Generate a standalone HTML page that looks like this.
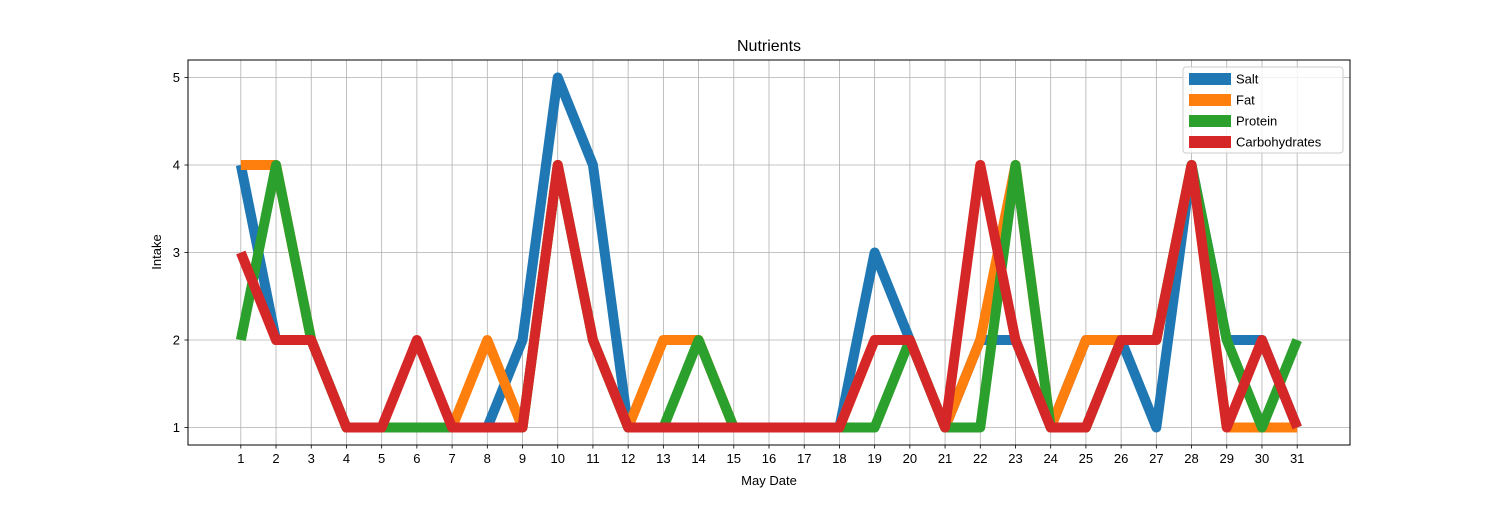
<!DOCTYPE html>
<html><head><meta charset="utf-8"><style>
body{margin:0;background:#fff}
svg{font-family:"Liberation Sans","DejaVu Sans",sans-serif}
</style></head><body>
<svg id="chart" width="1500" height="500" xmlns="http://www.w3.org/2000/svg">
<rect width="1500" height="500" fill="#fff"/>
<g id="grid"></g>
<g id="lines"></g>
<rect x="188" y="60" width="1162" height="385" fill="none" stroke="#000" stroke-width="1"/>
<g id="ticks"></g>
<text x="769" y="51" font-size="16" text-anchor="middle">Nutrients</text>
<text x="769" y="485" font-size="13" text-anchor="middle">May Date</text>
<text x="161" y="252" font-size="13" text-anchor="middle" transform="rotate(-90 161 252)">Intake</text>
<g id="legend"></g>
</svg>
<script>
const days = [1,2,3,4,5,6,7,8,9,10,11,12,13,14,15,16,17,18,19,20,21,22,23,24,25,26,27,28,29,30,31];
const salt = [4,2,2,1,1,1,1,1,2,5,4,1,1,1,1,1,1,1,3,2,1,2,2,1,2,2,1,4,2,2,1];
const fat = [4,4,2,1,1,1,1,2,1,4,2,1,2,2,1,1,1,1,2,2,1,2,4,1,2,2,2,4,1,1,1];
const protein = [2,4,2,1,1,1,1,1,1,4,2,1,1,2,1,1,1,1,1,2,1,1,4,1,1,2,2,4,2,1,2];
const carbs = [3,2,2,1,1,2,1,1,1,4,2,1,1,1,1,1,1,1,2,2,1,4,2,1,1,2,2,4,1,2,1];
const yTicks = [1,2,3,4,5];
const seriesNames = ["Salt","Fat","Protein","Carbohydrates"];
const seriesColors = ["#1f77b4","#ff7f0e","#2ca02c","#d62728"];
const seriesData = [salt,fat,protein,carbs];

const L=188,R=1350,T=60,B=445,xmin=-0.5,xmax=32.5,ymin=0.8,ymax=5.2;
const sx=v=>L+(v-xmin)/(xmax-xmin)*(R-L);
const sy=v=>B-(v-ymin)/(ymax-ymin)*(B-T);
const NS="http://www.w3.org/2000/svg";
function mk(tag,attrs,parent){const e=document.createElementNS(NS,tag);for(const k in attrs)e.setAttribute(k,attrs[k]);parent.appendChild(e);return e;}
const grid=document.getElementById('grid'),ticks=document.getElementById('ticks'),lines=document.getElementById('lines'),legend=document.getElementById('legend');
days.forEach(d=>{
  const x=sx(d);
  const g=mk('line',{x1:x,x2:x,y1:T,y2:B,stroke:'#b0b0b0','stroke-width':0.8},grid);
  
  
  const t=mk('line',{x1:x,x2:x,y1:B,y2:B+3.5,stroke:'#000','stroke-width':0.8},ticks);
  
  
  const l=mk('text',{x:x,y:B+18,'font-size':13,'text-anchor':'middle'},ticks);
  l.textContent=d;
  
  
});
yTicks.forEach(v=>{
  const y=sy(v);
  const g=mk('line',{x1:L,x2:R,y1:y,y2:y,stroke:'#b0b0b0','stroke-width':0.8},grid);
  
  
  const t=mk('line',{x1:L-3.5,x2:L,y1:y,y2:y,stroke:'#000','stroke-width':0.8},ticks);
  
  
  const l=mk('text',{x:L-8,y:y+4.5,'font-size':13,'text-anchor':'end'},ticks);
  l.textContent=v;
  
  
});
seriesData.forEach((s,i)=>{
  const pts=s.map((v,j)=>sx(days[j])+','+sy(v)).join(' ');
  const p=mk('polyline',{points:pts,fill:'none',stroke:seriesColors[i],'stroke-width':10,'stroke-linejoin':'round','stroke-linecap':'butt'},lines);
  
  
});
const lb=mk('rect',{x:1183,y:67,width:160,height:86,rx:3,fill:'#fff','fill-opacity':0.8,stroke:'#ccc'},legend);


seriesNames.forEach((n,i)=>{
  const y=79+i*21;
  const sw=mk('rect',{x:1189,y:y-6,width:42,height:12,fill:seriesColors[i]},legend);
  
  
  const t=mk('text',{x:1236,y:y+4.5,'font-size':13},legend);
  t.textContent=n;
  
  
});
</script>
</body></html>
